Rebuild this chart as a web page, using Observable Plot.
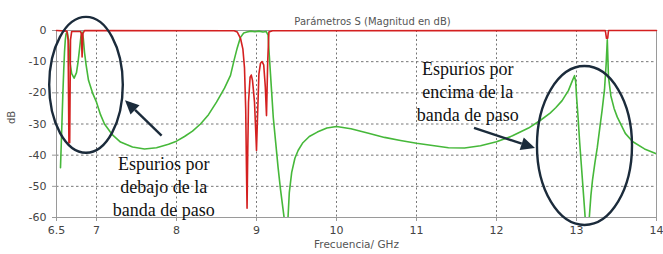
<!DOCTYPE html>
<html><head><meta charset="utf-8">
<script src="https://cdn.jsdelivr.net/npm/d3@7"></script>
<script src="https://cdn.jsdelivr.net/npm/@observablehq/plot@0.6"></script>
<style>body{margin:0;background:#fff} svg{display:block}</style>
</head><body><div id="chart"></div>
<script>
// ---- Data ----
const titleText = "Parámetros S (Magnitud en dB)";
const xLabel = "Frecuencia/ GHz";
const yLabel = "dB";
const xTicks = [6.5, 7, 8, 9, 10, 11, 12, 13, 14];
const yTicks = [0, -10, -20, -30, -40, -50, -60];

// S21 (green)
const s21Freq = [6.55,6.56,6.57,6.58,6.59,6.60,6.61,6.62,6.635,6.65,6.66,6.67,6.69,6.72,6.75,6.77,6.79,6.805,6.82,6.835,6.85,6.87,6.90,6.95,7.00,7.05,7.10,7.20,7.30,7.45,7.60,7.75,7.90,8.00,8.10,8.20,8.30,8.40,8.50,8.60,8.675,8.72,8.76,8.80,8.84,8.88,8.93,8.98,9.03,9.08,9.12,9.145,9.16,9.175,9.19,9.21,9.24,9.27,9.30,9.33,9.35,9.375,9.39,9.41,9.44,9.48,9.52,9.58,9.66,9.76,9.88,10.00,10.18,10.40,10.60,10.80,11.00,11.20,11.40,11.60,11.80,12.00,12.20,12.40,12.55,12.67,12.74,12.82,12.90,12.95,12.975,12.99,13.00,13.02,13.04,13.06,13.08,13.10,13.13,13.16,13.18,13.20,13.23,13.26,13.29,13.32,13.35,13.37,13.385,13.40,13.43,13.47,13.51,13.61,13.70,13.85,14.00];
const s21dB = [-44,-36,-28,-20,-13,-7,-3,-1,-0.5,-3,-7,-10.5,-13.8,-15.3,-13.5,-10,-5.5,-2,-0.5,-2.5,-7,-11,-16,-20,-23,-27,-30,-33.5,-35.8,-37.4,-38,-37.6,-36.5,-35.5,-34,-32.3,-30,-27,-23,-18.5,-14.4,-9.5,-5.5,-2.2,-0.8,-0.5,-0.2,-0.4,-0.2,-0.5,-0.3,-1.5,-8,-14,-20,-28,-36,-44,-51,-57,-61,-68,-62,-52,-45.5,-41,-38.5,-36,-34,-32.6,-31.3,-30.8,-31.5,-33,-34.3,-35.3,-36.2,-36.9,-37.6,-37.7,-37,-35.7,-33.8,-31.3,-28.8,-26.5,-24.8,-22.5,-19.2,-16,-14.5,-16.5,-21,-28,-36,-43,-50,-57,-68,-60,-53,-48,-42.5,-37.5,-31.5,-25.6,-19,-11,-3,-15,-21,-25,-27.8,-33,-35.6,-38,-39.6];

// S11 (red)
const s11Freq = [6.50,6.63,6.645,6.655,6.665,6.675,6.69,6.80,6.81,6.82,6.83,6.85,8.72,8.76,8.80,8.83,8.85,8.865,8.875,8.882,8.89,8.90,8.92,8.935,8.95,8.975,8.99,9.00,9.01,9.03,9.05,9.07,9.09,9.11,9.125,9.14,9.155,9.20,13.36,13.375,13.39,13.40,14.00];
const s11dB = [0,-0.2,-3,-36,-36,-3,-0.3,-0.3,-1,-8.5,-1,0,-0.1,-0.5,-2.5,-6,-12,-25,-45,-57,-40,-23,-15,-14.3,-16,-23,-32,-38.5,-30,-14,-10.5,-10,-11,-18,-27.3,-10,-0.5,-0.1,0,-2.5,-2.5,0,0];

// Annotations (data coordinates)
const annoText = ["Espurios por\ndebajo de la\nbanda de paso", "Espurios por\nencima de la\nbanda de paso"];
const annoX = [7.84, 11.64];
const annoY = [-39.5, -9.05];
const ellCx = [6.875, 13.106];
const ellCy = [-17.6, -37.06];
const ellRx = [0.46, 0.594];
const ellRy = [21.8, 25.5];
const arrowX1 = [7.82, 11.725];
const arrowY1 = [-33.9, -31.4];
const arrowX2 = [7.3625, 12.4875];
const arrowY2 = [-22.5, -37.9];

// ---- Build tables ----
const s21 = s21Freq.map((f, i) => ({f, v: s21dB[i]}));
const s11 = s11Freq.map((f, i) => ({f, v: s11dB[i]}));
const annos = annoText.map((t, i) => ({t, x: annoX[i], y: annoY[i]}));

const green = "#46b83a", red = "#d42020", ink = "#1b2b3b";
const sans = "DejaVu Sans";

const chart = Plot.plot({
  width: 663, height: 254,
  marginLeft: 56, marginRight: 7, marginTop: 30, marginBottom: 37,
  style: {fontFamily: sans, background: "#fff"},
  x: {domain: [6.5, 14], ticks: xTicks},
  y: {domain: [-60, 0], ticks: yTicks},
  marks: [
    Plot.gridX(xTicks.filter(d => d > 6.5 && d < 14), {stroke: "#777", strokeOpacity: 1, strokeDasharray: "2,2.5"}),
    Plot.gridY(yTicks.filter(d => d < 0 && d > -60), {stroke: "#777", strokeOpacity: 1, strokeDasharray: "2.5,2.5"}),
    Plot.frame({stroke: "#9a9a9a"}),
    Plot.axisX({ticks: xTicks, tickSize: 4, tickPadding: 5, label: null, stroke: "#9a9a9a", fill: "#444", fontSize: 11, tickFormat: d => String(d)}),
    Plot.axisY({ticks: yTicks, tickSize: 4, tickPadding: 6, label: null, stroke: "#9a9a9a", fill: "#444", fontSize: 11, tickFormat: d => String(d)}),
    Plot.line(s21, {x: "f", y: "v", stroke: green, strokeWidth: 1.6, clip: true}),
    Plot.line(s11, {x: "f", y: "v", stroke: red, strokeWidth: 1.6}),
    Plot.text([titleText], {frameAnchor: "top", dy: -13, dx: 16, fontSize: 10, fill: "#555"}),
    Plot.text([xLabel], {frameAnchor: "bottom", dy: 30, fontSize: 10.5, fill: "#555"}),
    Plot.text([yLabel], {frameAnchor: "left", dx: -45, rotate: -90, fontSize: 10, fill: "#555"}),
    Plot.text(annos, {x: "x", y: "y", text: "t", lineAnchor: "top", lineHeight: 1.27, fontSize: 18, fontFamily: "Liberation Serif", fill: "#111"})
  ]
});
document.getElementById("chart").appendChild(chart);

// ---- Annotation shapes drawn with the chart's own scales ----
const sx = chart.scale("x"), sy = chart.scale("y");
const svg = d3.select(chart);
const g = svg.append("g");
ellCx.forEach((cx, i) => {
  const px = sx.apply(cx), py = sy.apply(ellCy[i]);
  g.append("ellipse")
    .attr("cx", px).attr("cy", py)
    .attr("rx", Math.abs(sx.apply(cx + ellRx[i]) - px))
    .attr("ry", Math.abs(sy.apply(ellCy[i] + ellRy[i]) - py))
    .attr("fill", "none").attr("stroke", ink).attr("stroke-width", 2.4);
});
arrowX1.forEach((x1, i) => {
  const ax = sx.apply(x1), ay = sy.apply(arrowY1[i]);
  const bx = sx.apply(arrowX2[i]), by = sy.apply(arrowY2[i]);
  const ang = Math.atan2(by - ay, bx - ax);
  const L = 14, W = 6.5;
  const baseX = bx - L * Math.cos(ang), baseY = by - L * Math.sin(ang);
  g.append("line").attr("x1", ax).attr("y1", ay).attr("x2", baseX).attr("y2", baseY)
    .attr("stroke", ink).attr("stroke-width", 2.4);
  const nx = -Math.sin(ang), ny = Math.cos(ang);
  g.append("path")
    .attr("d", `M${bx},${by}L${baseX + W * nx},${baseY + W * ny}L${baseX - W * nx},${baseY - W * ny}Z`)
    .attr("fill", ink);
});
</script></body></html>
